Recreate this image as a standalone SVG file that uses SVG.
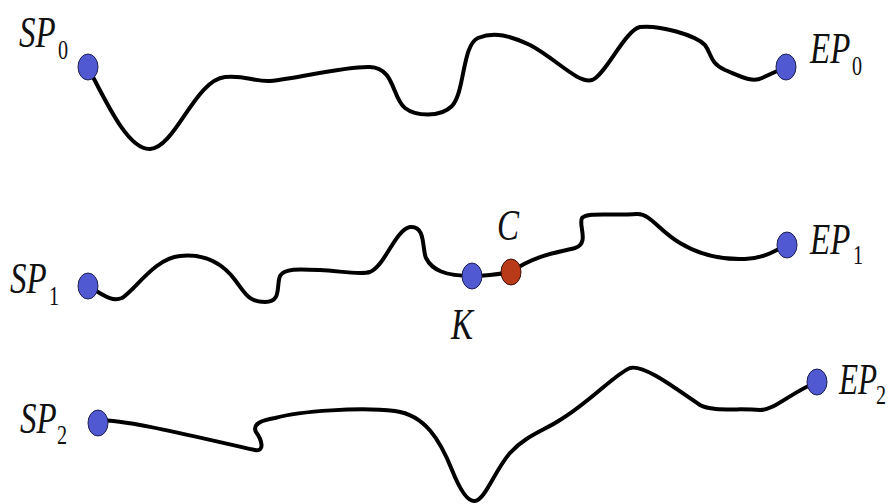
<svg xmlns="http://www.w3.org/2000/svg" width="894" height="504" viewBox="0 0 894 504">
  <style>
    .path { fill: none; stroke: #000; stroke-width: 4; stroke-linecap: round; stroke-linejoin: round; }
    .pt { fill: #5058d2; stroke: #1e2050; stroke-width: 1; }
    .pt-c { fill: #b83a18; stroke: #3a1208; stroke-width: 1; }
    .lbl { font-family: "Liberation Serif", "Times New Roman", serif; font-style: italic; font-size: 44px; fill: #111; }
    .sub { font-family: "Liberation Serif", "Times New Roman", serif; font-size: 28px; fill: #111; }
  </style>
  <rect width="894" height="504" fill="#fff"/>

  <g id="connectors">
    <path id="path0" class="path" d="M93,77 C110,110 130,150 150,149 C175,148 195,80 225,77 C245,75 255,82 270,81 C300,78 345,66 370,67 C395,68 392,98 405,108 C415,116 440,118 452,106 C465,92 462,45 478,38 C495,31 510,36 530,45 C555,58 578,84 592,80 C605,76 625,30 640,27 C660,25 695,35 705,45 C712,55 710,63 725,70 C740,76 752,83 762,78 L786,67"/>
    <path id="path1" class="path" d="M88,286 C105,296 112,302 122,298 C135,290 155,258 180,256 C200,254 220,260 235,280 C245,293 248,302 265,302 C282,302 276,286 280,276 C284,268 300,269 320,270 C340,271 360,275 370,272 C385,266 395,230 410,227 C426,225 422,250 426,258 C432,270 445,276 472,276 C490,276 500,274 511,272 C535,255 560,252 575,248 C590,243 578,225 582,218 C588,212 610,216 637,214 C650,213 660,232 680,243 C700,255 720,260 745,259 C765,258 772,252 787,245"/>
    <path id="path2" class="path" d="M98,420 C130,420 200,438 255,450 C265,452 262,440 256,432 C252,424 262,420 275,418 C300,411 360,407 395,411 C425,415 440,440 452,470 C460,490 468,502 475,501 C485,500 495,470 510,453 C525,436 545,430 560,420 C590,402 615,374 630,368 C645,364 680,392 700,405 C712,412 740,408 760,410 C775,410 790,393 817,382"/>
  </g>

  <g id="sp0">
    <ellipse class="pt" cx="88" cy="67" rx="10" ry="13"/>
    <text class="lbl" transform="translate(19,47) scale(0.75,1)">SP</text>
    <text class="sub" transform="translate(58,59) scale(0.72,1)">0</text>
  </g>
  <g id="ep0">
    <ellipse class="pt" cx="786" cy="67" rx="10" ry="13"/>
    <text class="lbl" transform="translate(810,63) scale(0.75,1)">EP</text>
    <text class="sub" transform="translate(852,75) scale(0.72,1)">0</text>
  </g>

  <g id="sp1">
    <ellipse class="pt" cx="88" cy="286" rx="10" ry="13"/>
    <text class="lbl" transform="translate(10,293) scale(0.75,1)">SP</text>
    <text class="sub" transform="translate(49,305) scale(0.72,1)">1</text>
  </g>
  <g id="k">
    <ellipse class="pt" cx="472" cy="276" rx="10" ry="13"/>
    <text class="lbl" transform="translate(451,339) scale(0.75,1)">K</text>
  </g>
  <g id="c">
    <ellipse class="pt-c" cx="511" cy="272" rx="10" ry="13"/>
    <text class="lbl" transform="translate(497,240) scale(0.75,1)">C</text>
  </g>
  <g id="ep1">
    <ellipse class="pt" cx="787" cy="245" rx="10" ry="13"/>
    <text class="lbl" transform="translate(810,254) scale(0.75,1)">EP</text>
    <text class="sub" transform="translate(853,264) scale(0.72,1)">1</text>
  </g>

  <g id="sp2">
    <ellipse class="pt" cx="98" cy="423" rx="10" ry="13"/>
    <text class="lbl" transform="translate(20,433) scale(0.75,1)">SP</text>
    <text class="sub" transform="translate(57,444) scale(0.72,1)">2</text>
  </g>
  <g id="ep2">
    <ellipse class="pt" cx="817" cy="382" rx="10" ry="13"/>
    <text class="lbl" transform="translate(839,394) scale(0.71,1)">EP</text>
    <text class="sub" transform="translate(876,404) scale(0.72,1)">2</text>
  </g>
</svg>
